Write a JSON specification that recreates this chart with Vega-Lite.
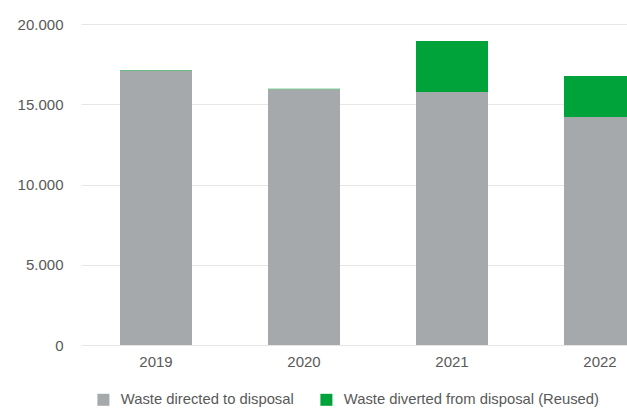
{
  "$schema": "https://vega.github.io/schema/vega-lite/v6.json",
  "autosize": {"type": "none"},
  "width": 546,
  "height": 321,
  "padding": {"left": 81, "top": 24, "right": 0, "bottom": 63},
  "background": "white",
  "config": {
    "view": {"stroke": null},
    "font": "Liberation Sans"
  },
  "data": {
    "values": [
      {"year": "2019", "type": "Waste directed to disposal", "value": 17100},
      {"year": "2019", "type": "Waste diverted from disposal (Reused)", "value": 40},
      {"year": "2020", "type": "Waste directed to disposal", "value": 15930},
      {"year": "2020", "type": "Waste diverted from disposal (Reused)", "value": 30},
      {"year": "2021", "type": "Waste directed to disposal", "value": 15760},
      {"year": "2021", "type": "Waste diverted from disposal (Reused)", "value": 3180},
      {"year": "2022", "type": "Waste directed to disposal", "value": 14205},
      {"year": "2022", "type": "Waste diverted from disposal (Reused)", "value": 2555}
    ]
  },
  "mark": {"type": "bar", "clip": true},
  "encoding": {
    "x": {
      "field": "year",
      "type": "nominal",
      "scale": {"range": [0, 594], "paddingInner": 0.5135, "paddingOuter": 0.2635},
      "axis": {
        "title": null,
        "labelAngle": 0,
        "domain": false,
        "ticks": false,
        "labelPadding": 9,
        "labelFontSize": 15,
        "labelColor": "#595959"
      }
    },
    "y": {
      "field": "value",
      "type": "quantitative",
      "stack": "zero",
      "scale": {"domain": [0, 20000], "nice": false},
      "axis": {
        "title": null,
        "values": [0, 5000, 10000, 15000, 20000],
        "labelExpr": "replace(format(datum.value, ','), ',', '.')",
        "domain": false,
        "ticks": false,
        "labelPadding": 18,
        "labelFontSize": 15,
        "labelColor": "#595959",
        "gridColor": "#e6e6e6",
        "gridWidth": 1
      }
    },
    "color": {
      "field": "type",
      "type": "nominal",
      "scale": {
        "domain": ["Waste directed to disposal", "Waste diverted from disposal (Reused)"],
        "range": ["#a6a9ac", "#00a339"]
      },
      "legend": {
        "title": null,
        "orient": "none",
        "legendX": 15,
        "legendY": 368,
        "direction": "horizontal",
        "symbolType": "square",
        "symbolSize": 144,
        "symbolStrokeWidth": 0,
        "symbolOpacity": 1,
        "labelFontSize": 14.8,
        "labelColor": "#595959",
        "labelOffset": 10,
        "columnPadding": 25,
        "padding": 0,
        "labelLimit": 400
      }
    },
    "order": {"field": "type", "sort": "ascending"}
  }
}
